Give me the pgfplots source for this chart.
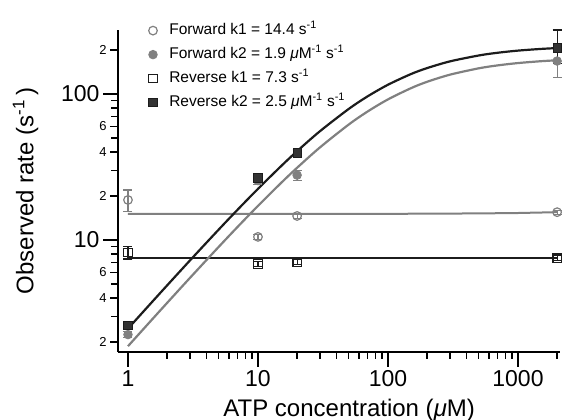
\documentclass[border=0pt]{standalone}
\usepackage{fontspec}
\setmainfont{Liberation Sans}
\usepackage{pgfplots}
\pgfplotsset{compat=1.18}
\definecolor{fgray}{RGB}{128,128,128}
\definecolor{dk}{RGB}{28,28,28}
\begin{document}
\begin{tikzpicture}
\useasboundingbox (-118bp,-68bp) rectangle (444bp,352bp);
\begin{axis}[
  at={(0,0)}, anchor=south west,
  width=442bp, height=322bp, scale only axis,
  xmode=log, ymode=log,
  xmin=0.838, xmax=2105, ymin=1.71, ymax=274,
  clip=false,
  axis x line*=bottom, axis y line*=left,
  axis line style={line width=1.6bp, black},
  tick align=outside,
  major tick length=15bp, minor tick length=7bp,
  every tick/.style={black, line width=1.3bp},
  xtick={1,10,100,1000}, xticklabels={1,10,100,1000},
  minor xtick={2,3,4,5,6,7,8,9,20,30,40,50,60,70,80,90,200,300,400,500,600,700,800,900,2000},
  ytick={10,100}, yticklabels={10,100},
  minor ytick={3,5,7,8,9,30,50,70,80,90},
  extra y ticks={2,4,6,20,40,60,200},
  extra y tick labels={2,4,6,2,4,6,2},
  extra y tick style={major tick length=8bp, tick label style={font=\fontsize{13bp}{15bp}\selectfont}},
  tick label style={font=\fontsize{23bp}{26bp}\selectfont},
  every axis y label/.style={at={(axis description cs:-0.18,0.5)}, rotate=90, anchor=south, inner sep=0pt, font=\fontsize{24bp}{28bp}\selectfont},
  every axis x label/.style={at={(axis description cs:0.523,-0.2)}, anchor=base, inner sep=0pt, font=\fontsize{24bp}{28bp}\selectfont},
  xlabel={ATP concentration (\textit{μ}M)},
  ylabel={Observed rate (s\textsuperscript{-1}\,)},
  legend cell align=left,
  legend style={at={(axis description cs:0.069,1.022)}, anchor=north west, draw=none, fill=none,
    font=\fontsize{15.5bp}{18bp}\selectfont, inner sep=0pt, row sep=9bp, column sep=12bp,
    nodes={inner sep=0pt, text height=11bp, text depth=4bp}},
]
% fitted lines
\addplot[fgray, line width=2bp, forget plot] coordinates {(1,15.1) (100,15.1) (500,15.2) (1000,15.3) (2000,15.5)};
\addplot[dk, line width=2bp, forget plot] coordinates {(1,7.48) (2000,7.48)};
\addplot[fgray, line width=2.2bp, smooth, forget plot] coordinates {
(1,1.874) (1.5,2.796) (2,3.708) (3,5.505) (5,8.99) (7,12.34) (10,17.12) (15,24.50) (20,31.23) (30,43.06) (50,61.81) (70,75.98) (100,91.75) (150,109.4) (200,121.1) (300,135.5) (500,149.8) (700,156.9) (1000,162.7) (1500,167.5) (2000,170.0)};
\addplot[dk, line width=2.2bp, smooth, forget plot] coordinates {
(1,2.471) (1.5,3.686) (2,4.886) (3,7.247) (5,11.81) (7,16.18) (10,22.40) (15,31.93) (20,40.57) (30,55.60) (50,79.04) (70,96.47) (100,115.6) (150,136.7) (200,150.3) (300,167.1) (500,183.4) (700,191.5) (1000,198.0) (1500,203.3) (2000,206.1)};
% Forward k1
\addplot[fgray, only marks, mark=o, mark size=4.3bp, mark options={line width=1.2bp, fill=white},
  error bars/.cd, y dir=both, y explicit, error bar style={line width=1.2bp}, error mark options={rotate=90, line width=1.2bp, mark size=4.5bp}]
  coordinates {(1,18.8) +- (0,3.2) (10,10.5) +- (0,0.4) (20,14.6) +- (0,0.5) (2000,15.5) +- (0,0.5)};
\addlegendentry{Forward k1 = 14.4 s\textsuperscript{-1}}
% Forward k2
\addplot[fgray, only marks, mark=*, mark size=4.3bp, mark options={line width=0.8bp, fill=fgray},
  error bars/.cd, y dir=both, y explicit, error bar style={line width=1.2bp}, error mark options={rotate=90, line width=1.2bp, mark size=4.5bp}]
  coordinates {(1,2.25) +- (0,0.1) (10,25.5) +- (0,1.5) (20,27.8) +- (0,2.2) (2000,168) += (0,40) -= (0,39)};
\addlegendentry{Forward k2 = 1.9 \textit{μ}M\textsuperscript{-1} s\textsuperscript{-1}}
% Reverse k1
\addplot[dk, only marks, mark=square, mark size=4.2bp, mark options={line width=1.2bp, fill=white},
  error bars/.cd, y dir=both, y explicit, error bar style={line width=1.2bp}, error mark options={rotate=90, line width=1.2bp, mark size=4.5bp}]
  coordinates {(1,8.2) +- (0,0.8) (10,6.85) +- (0,0.25) (20,7.06) +- (0,0.3) (2000,7.5) +- (0,0.3)};
\addlegendentry{Reverse k1 = 7.3 s\textsuperscript{-1}}
% Reverse k2
\addplot[dk, only marks, mark=square*, mark size=4.2bp, mark options={line width=0.8bp, fill=dk!90},
  error bars/.cd, y dir=both, y explicit, error bar style={line width=1.2bp}, error mark options={rotate=90, line width=1.2bp, mark size=4.5bp}]
  coordinates {(1,2.6) +- (0,0.1) (10,26.6) +- (0,1.2) (20,39.5) +- (0,2) (2000,206) += (0,68) -= (0,45)};
\addlegendentry{Reverse k2 = 2.5 \textit{μ}M\textsuperscript{-1} s\textsuperscript{-1}}
\end{axis}
\end{tikzpicture}
\end{document}
